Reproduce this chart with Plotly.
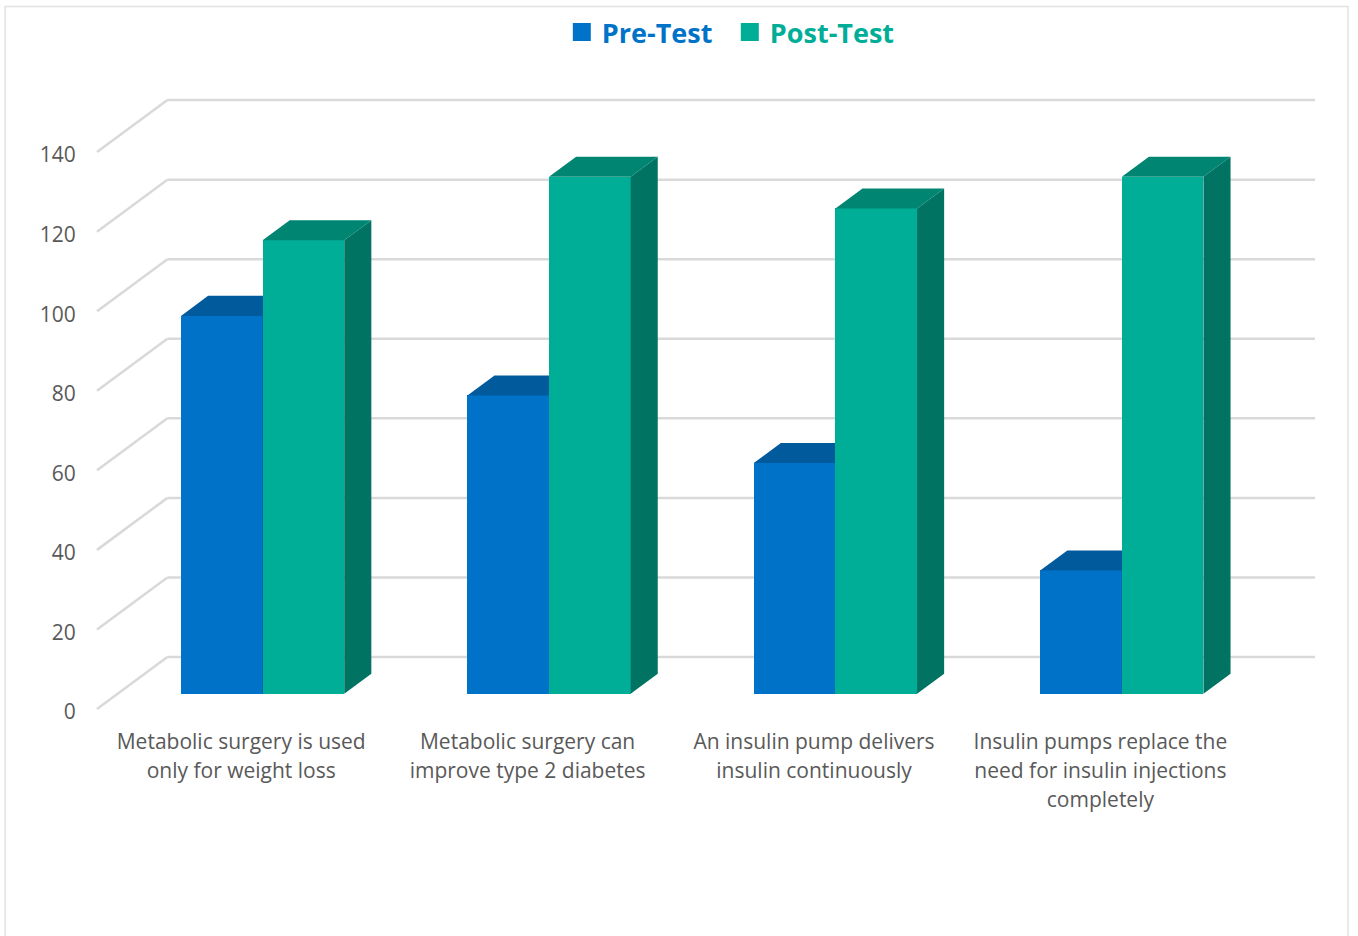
import plotly.graph_objects as go

categories = [
    ["Metabolic surgery is used", "only for weight loss"],
    ["Metabolic surgery can", "improve type 2 diabetes"],
    ["An insulin pump delivers", "insulin continuously"],
    ["Insulin pumps replace the", "need for insulin injections", "completely"],
]
pre_test = [95, 75, 58, 31]
post_test = [114, 130, 122, 130]
y_ticks = [0, 20, 40, 60, 80, 100, 120, 140]

W, H = 1358, 936
FLOOR_LEFT_PX, RIGHT_PX, ZERO_PX = 97.3, 1315.0, 709.0
PAD = 4.0                          # plot area slack so edge gridlines are not clipped
PLOT_L, PLOT_T, PLOT_B = FLOOR_LEFT_PX - PAD, 100.0 - PAD, ZERO_PX + PAD
PX_PER_CAT = 286.33
PX_PER_VAL = 3.978
DEPTH_DX_PX, DEPTH_DY_PX = 70.4, 52.0

FLOOR_X0 = -0.5
XMIN = FLOOR_X0 - PAD / PX_PER_CAT
XMAX = FLOOR_X0 + (RIGHT_PX - FLOOR_LEFT_PX) / PX_PER_CAT
YMIN = -PAD / PX_PER_VAL
YMAX = (ZERO_PX - PLOT_T) / PX_PER_VAL
DX = DEPTH_DX_PX / PX_PER_CAT      # full floor depth in category units
DY = DEPTH_DY_PX / PX_PER_VAL      # full floor depth in value units
BAR_OFF_DX = 22.4 / PX_PER_CAT     # bars sit this far behind the front edge
BAR_OFF_DY = 15.2 / PX_PER_VAL
BAR_DEPTH = 0.385                  # share of depth taken by the bars
BAR_W = 81.6 / PX_PER_CAT

BLUE = ("#0073C8", "#005A9C", "#004F88")
GREEN = ("#00AE98", "#008572", "#007363")
GRID = "#D9D9D9"
TEXT = "#595959"
FONT = "Open Sans"

fx0, fy0 = BAR_OFF_DX, BAR_OFF_DY
bdx, bdy = DX * BAR_DEPTH, DY * BAR_DEPTH


def bar_traces(values, side, colors, name, xa, ya):
    xs = [i + fx0 + side * BAR_W / 2 for i in range(len(values))]
    front = go.Bar(x=xs, y=values, base=fy0, width=BAR_W, marker=dict(color=colors[0], line=dict(width=0)),
                   name=name, showlegend=False, xaxis=xa, yaxis=ya, hovertemplate="%{y}<extra>" + name + "</extra>")
    tx, ty, sx, sy = [], [], [], []
    for x, v in zip(xs, values):
        l, r, t, b = x - BAR_W / 2, x + BAR_W / 2, v + fy0, fy0
        tx += [l, r, r + bdx, l + bdx, l, None]
        ty += [t, t, t + bdy, t + bdy, t, None]
        sx += [r, r + bdx, r + bdx, r, r, None]
        sy += [t, t + bdy, b + bdy, b, t, None]
    top = go.Scatter(x=tx, y=ty, mode="lines", fill="toself", fillcolor=colors[1], line=dict(width=0),
                     showlegend=False, hoverinfo="skip", xaxis=xa, yaxis=ya)
    right = go.Scatter(x=sx, y=sy, mode="lines", fill="toself", fillcolor=colors[2], line=dict(width=0),
                       showlegend=False, hoverinfo="skip", xaxis=xa, yaxis=ya)
    return [front, right, top]


def legend_trace(name, color):
    return go.Scatter(x=[None], y=[None], mode="markers", name=f'<span style="color:{color}"><b>{name}</b></span>',
                      marker=dict(symbol="square", size=16, color=color, line=dict(width=2, color=color)),
                      xaxis="x2", yaxis="y2")


fig = go.Figure()
for tr in bar_traces(pre_test, -1, BLUE, "Pre-Test", "x", "y"):
    fig.add_trace(tr)
for tr in bar_traces(post_test, 1, GREEN, "Post-Test", "x2", "y2"):
    fig.add_trace(tr)
fig.add_trace(legend_trace("Pre-Test", BLUE[0]))
fig.add_trace(legend_trace("Post-Test", GREEN[0]))

shapes = []
for v in y_ticks:
    line = dict(color=GRID, width=2.5)
    shapes.append(dict(type="line", xref="x", yref="y", layer="below", x0=FLOOR_X0, y0=v, x1=FLOOR_X0 + DX, y1=v + DY, line=line))
    shapes.append(dict(type="line", xref="x", yref="y", layer="below", x0=FLOOR_X0 + DX, y0=v + DY, x1=XMAX, y1=v + DY, line=line))

plot_w = RIGHT_PX - PLOT_L
plot_h = PLOT_B - PLOT_T
shapes.append(dict(type="rect", xref="paper", yref="paper", layer="below",
                   x0=(5.5 - PLOT_L) / plot_w, x1=(1348 - PLOT_L) / plot_w,
                   y0=(PLOT_B - 960) / plot_h, y1=(PLOT_B - 6.5) / plot_h,
                   line=dict(color="#E2E2E2", width=1.5), fillcolor="rgba(0,0,0,0)"))

line_px = 29 / 1.3
tick_text = ["<br>".join(f'<span style="font-size:21px">{ln}</span>' for ln in c) for c in categories]

common_x = dict(range=[XMIN, XMAX], showgrid=False, zeroline=False, showline=False)
common_y = dict(range=[YMIN, YMAX], showgrid=False, zeroline=False, showline=False)

fig.update_layout(
    width=W, height=H, autosize=False,
    margin=dict(l=PLOT_L, r=W - RIGHT_PX, t=PLOT_T, b=H - PLOT_B, autoexpand=False),
    paper_bgcolor="white", plot_bgcolor="rgba(0,0,0,0)",
    barmode="overlay", bargap=0,
    font=dict(family=FONT, color=TEXT, size=20),
    shapes=shapes,
    legend=dict(orientation="h", x=(562 - PLOT_L) / plot_w, xanchor="left", y=(PLOT_B - 8) / plot_h, yanchor="top",
                font=dict(size=27, family=FONT), bgcolor="rgba(0,0,0,0)", entrywidth=123, entrywidthmode="pixels",
                itemclick=False, itemdoubleclick=False),
    xaxis=dict(**common_x, tickmode="array", tickvals=list(range(len(categories))), ticktext=tick_text,
               ticks="outside", ticklen=8, tickcolor="rgba(0,0,0,0)", ticklabelshift=1,
               tickfont=dict(size=line_px, color=TEXT, family=FONT)),
    yaxis=dict(**common_y, tickmode="array", tickvals=y_ticks, ticks="outside", ticklen=12, tickcolor="rgba(0,0,0,0)",
               ticklabelshift=3, tickfont=dict(size=21, color=TEXT, family=FONT)),
    xaxis2=dict(**common_x, overlaying="x", visible=False),
    yaxis2=dict(**common_y, overlaying="y", visible=False),
)

fig.write_html("out.html", post_script="document.body.style.margin='0';document.documentElement.style.overflow='hidden';",
               config={"displayModeBar": False})
